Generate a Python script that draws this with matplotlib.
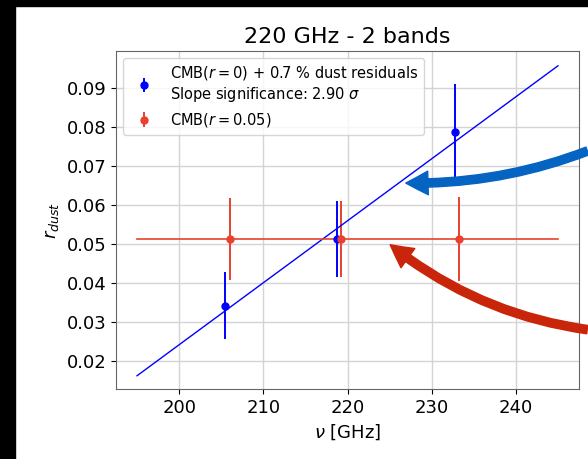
import matplotlib
matplotlib.use("Agg")
import matplotlib.pyplot as plt
from matplotlib.patches import FancyArrowPatch, Rectangle

# measured points
freq_blue = [205.5, 218.7, 232.8]
r_blue = [0.0341, 0.0512, 0.0786]
err_blue = [0.0086, 0.0098, 0.0124]

freq_red = [206.0, 219.2, 233.3]
r_red = [0.0512, 0.0512, 0.0512]
err_red = [0.0105, 0.0098, 0.0107]

# fitted lines
fit_x = [195, 245]
fit_blue = [0.0161, 0.0956]
fit_red = [0.0512, 0.0512]

blue = '#0000ff'
red = '#e8412f'

W, H = 588, 459
fig = plt.figure(figsize=(W / 100, H / 100), dpi=100)
ax = fig.add_axes([116 / W, 1 - 389 / H, (579 - 116) / W, (389 - 51) / H])

ax.grid(True, color='#d4d4d4', lw=1, zorder=0)
ax.set_axisbelow(True)

ax.errorbar(freq_blue, r_blue, yerr=err_blue, fmt='o', color=blue, ms=5,
            elinewidth=1.4, capsize=0,
            label='CMB($r=0$) + 0.7 % dust residuals\nSlope significance: 2.90 $\\sigma$')
ax.errorbar(freq_red, r_red, yerr=err_red, fmt='o', color=red, ms=5,
            elinewidth=1.4, capsize=0, label='CMB($r=0.05$)')
ax.plot(fit_x, fit_blue, color=blue, lw=1)
ax.plot(fit_x, fit_red, color=red, lw=1.2)

ax.set_xlim(192.5, 247.5)
ax.set_ylim(0.0127, 0.0994)
ax.set_xticks([200, 210, 220, 230, 240])
ax.set_yticks([0.02, 0.03, 0.04, 0.05, 0.06, 0.07, 0.08, 0.09])
ax.tick_params(labelsize=13)
for s in ax.spines.values():
    s.set_color('0.4')

ax.set_title('220 GHz - 2 bands', fontsize=16)
ax.set_xlabel(r'$\nu$ [GHz]', fontsize=13)
ax.set_ylabel(r'$r_{dust}$', fontsize=13)
ax.legend(loc='upper left', fontsize=10.5)

# black borders of the slide
fig.patches.append(Rectangle((0, 0), 15 / W, 1, transform=fig.transFigure,
                             color='black', zorder=10))
fig.patches.append(Rectangle((0, 1 - 6 / H), 1, 6 / H, transform=fig.transFigure,
                             color='black', zorder=10))


def px(x, y):
    return (x / W, 1 - y / H)


style = 'simple,head_width=17,head_length=16,tail_width=6'
a1 = FancyArrowPatch(px(590, 150), px(403, 183), transform=fig.transFigure,
                     connectionstyle='arc3,rad=-0.1', arrowstyle=style,
                     color='#0563c1', zorder=11)
a2 = FancyArrowPatch(px(590, 330), px(388, 243), transform=fig.transFigure,
                     connectionstyle='arc3,rad=-0.14', arrowstyle=style,
                     color='#c8250a', zorder=11)
fig.patches.append(a1)
fig.patches.append(a2)

fig.savefig('out.png', dpi=100)
